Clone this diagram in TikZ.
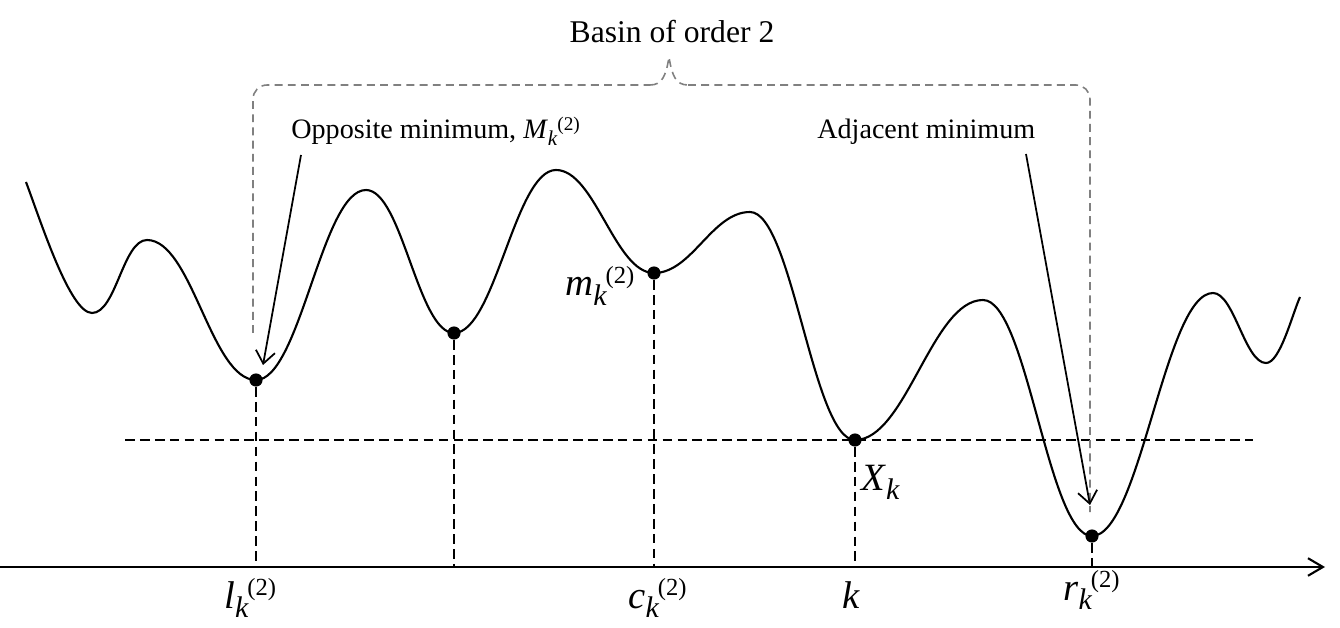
\documentclass[tikz,border=0pt]{standalone}
\usepackage{fontspec}
\setmainfont{Liberation Serif}
\usetikzlibrary{arrows.meta}
% big variable label: base, subscript, superscript
\newcommand\blab[3]{\textit{#1}\raisebox{-5.5pt}{\fontsize{17}{20}\selectfont\itshape #2}\kern-0.5pt\raisebox{7pt}{\fontsize{14}{17}\selectfont #3}}
% small variable label inside text
\newcommand\slab[3]{\textit{#1}\raisebox{-3.5pt}{\fontsize{12}{14}\selectfont\itshape #2}\raisebox{5pt}{\fontsize{11}{13}\selectfont #3}}
\begin{document}
\begin{tikzpicture}[x=0.02cm,y=-0.02cm,
  curve/.style={line width=1.2pt,line join=round},
  dot/.style={circle,fill=black,inner sep=0pt,minimum size=7.5pt},
  vdash/.style={line width=1.1pt,dash pattern=on 5.5pt off 3pt},
  gdash/.style={line width=0.9pt,gray,dash pattern=on 4.5pt off 3pt,rounded corners=8pt},
  pointer/.style={line width=1pt,-{Straight Barb[length=7pt,width=11pt,line width=1pt]}},
  txt/.style={font=\fontsize{16}{19}\selectfont,inner sep=0pt},
  bigtxt/.style={font=\fontsize{18}{22}\selectfont,inner sep=0pt},
  mlab/.style={font=\fontsize{22}{26}\selectfont,inner sep=0pt}]
\useasboundingbox (0,0) rectangle (1340,628);

% minima (dots)
\node[dot] (dl) at (256,380) {};
\node[dot] (d2) at (454,333) {};
\node[dot] (dm) at (654,273) {};
\node[dot] (dX) at (855,440) {};
\node[dot] (dr) at (1092,536) {};

% axis
\coordinate (axL) at (0,567);
\coordinate (axR) at (1325,567);
\draw[line width=1.2pt,-{Straight Barb[length=8.5pt,width=10pt,line width=1.2pt]}] (axL) -- (axR);

% horizontal dashed level
\coordinate (hL) at (125,440);
\coordinate (hR) at (1253,440);
\draw[vdash] (hL) -- (hR);

% vertical dashed projections
\draw[vdash] (dl) -- (dl |- axL);
\draw[vdash] (d2) -- (d2 |- axL);
\draw[vdash] (dm) -- (dm |- axL);
\draw[vdash] (dX) -- (dX |- axL);
\draw[vdash] (dr) -- (dr |- axL);

% gray basin bracket
\coordinate (bL) at (253,333);
\coordinate (bR) at (1090,512);
\coordinate (bTip) at (669,57);
\draw[gdash] (bL) -- (253,85) -- (650,85);
\draw[gray,line width=0.9pt,dash pattern=on 4.5pt off 3pt]
  (650,85) .. controls (662,85) and (666,76) .. (bTip)
  .. controls (672,76) and (676,85) .. (688,85);
\draw[gdash] (688,85) -- (1090,85) -- (bR);

% the curve
\draw[curve]
  (26,182) .. controls (41,222) and (70,313) .. (92,313)
  .. controls (116,313) and (123,240) .. (147,240)
  .. controls (192,240) and (211,380) .. (dl.center)
  .. controls (300,380) and (322,190) .. (366,190)
  .. controls (402,190) and (418,333) .. (d2.center)
  .. controls (495,333) and (515,170) .. (556,170)
  .. controls (595,170) and (615,273) .. (dm.center)
  .. controls (692,273) and (712,212) .. (750,212)
  .. controls (792,212) and (813,440) .. (dX.center)
  .. controls (906,440) and (932,300) .. (983,300)
  .. controls (1027,300) and (1048,536) .. (dr.center)
  .. controls (1140,536) and (1165,293) .. (1213,293)
  .. controls (1234,293) and (1245,363) .. (1266,363)
  .. controls (1280,363) and (1292,315) .. (1300,297);

% texts
\node[bigtxt,anchor=base] (basin) at (672,43) {Basin of order 2};
\node[txt,anchor=base west] (opp) at (291,139) {Opposite minimum, \slab{M}{k}{(2)}};
\node[txt,anchor=base west] (adj) at (817,139) {Adjacent minimum};
\node[mlab,anchor=base west] (mlabel) at (565,296) {\blab{m}{k}{(2)}};
\node[mlab,anchor=base west] (xlabel) at (861,490) {\blab{X}{k}{}};
\node[mlab,anchor=base west] (llabel) at (224,608) {\blab{l}{k}{(2)}};
\node[mlab,anchor=base west] (clabel) at (628,608) {\blab{c}{k}{(2)}};
\node[mlab,anchor=base west] (klabel) at (842,608) {\textit{k}};
\node[mlab,anchor=base west] (rlabel) at (1063,600) {\blab{r}{k}{(2)}};

% pointer arrows
\coordinate (oppT) at (301,155);
\coordinate (oppH) at (263,365);
\coordinate (adjT) at (1026,154);
\coordinate (adjH) at (1090,505);
\draw[pointer] (oppT) -- (oppH);
\draw[pointer] (adjT) -- (adjH);
\end{tikzpicture}
\end{document}
